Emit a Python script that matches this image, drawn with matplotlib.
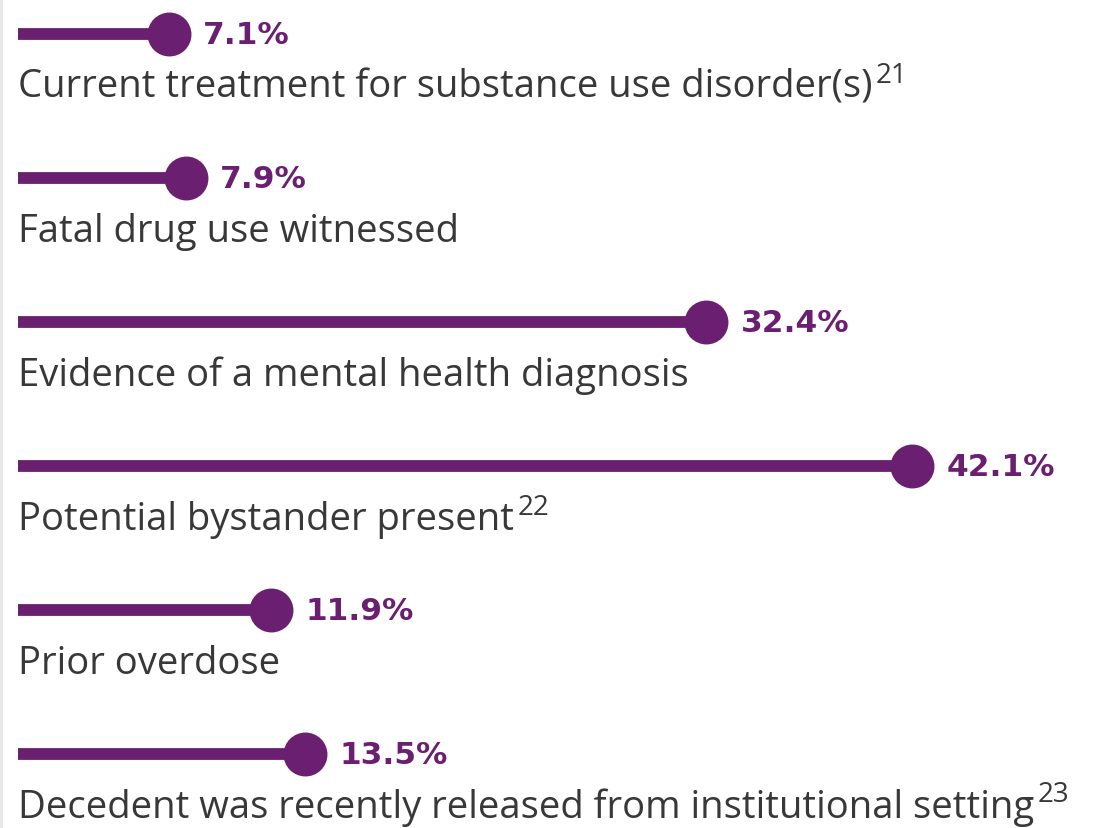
import matplotlib.pyplot as plt
from matplotlib.lines import Line2D

categories = [
    "Current treatment for substance use disorder(s)",
    "Fatal drug use witnessed",
    "Evidence of a mental health diagnosis",
    "Potential bystander present",
    "Prior overdose",
    "Decedent was recently released from institutional setting",
]
footnotes = ["21", "", "", "22", "", "23"]
values = [7.1, 7.9, 32.4, 42.1, 11.9, 13.5]

purple = "#6b1f71"
text_color = "#383838"
plt.rcParams['font.family'] = ['Open Sans', 'DejaVu Sans']

fig = plt.figure(figsize=(10.96, 8.29), dpi=100)
ax = fig.add_axes([0, 0, 1, 1])
ax.set_xlim(-0.87, 50.75)
ax.set_ylim(5.514, -0.243)
ax.axis('off')

# faint frame edge on the left, as in the source screenshot
fig.add_artist(Line2D([0.001, 0.001], [0, 1], transform=fig.transFigure, color="#e6e6e6", linewidth=2))

for i, (cat, note, v) in enumerate(zip(categories, footnotes, values)):
    ax.hlines(i, 0, v, color=purple, linewidth=8.5, capstyle='butt')
    ax.scatter([v], [i], s=1000, color=purple, zorder=3, linewidths=0)
    ax.annotate(f"{v}%", xy=(v, i), xytext=(34, -9), textcoords='offset pixels',
                va='baseline', ha='left', fontsize=22.5, fontweight='bold', color=purple,
                family='DejaVu Sans')
    t = ax.text(0, i + 0.4375, cat, va='baseline', ha='left', fontsize=27.5, color=text_color)
    if note:
        ax.annotate(note, xy=(1, 1), xycoords=t, xytext=(3, 7), textcoords='offset pixels',
                    va='top', ha='left', fontsize=20, color=text_color)

fig.savefig("out.png", dpi=100, facecolor='white')
